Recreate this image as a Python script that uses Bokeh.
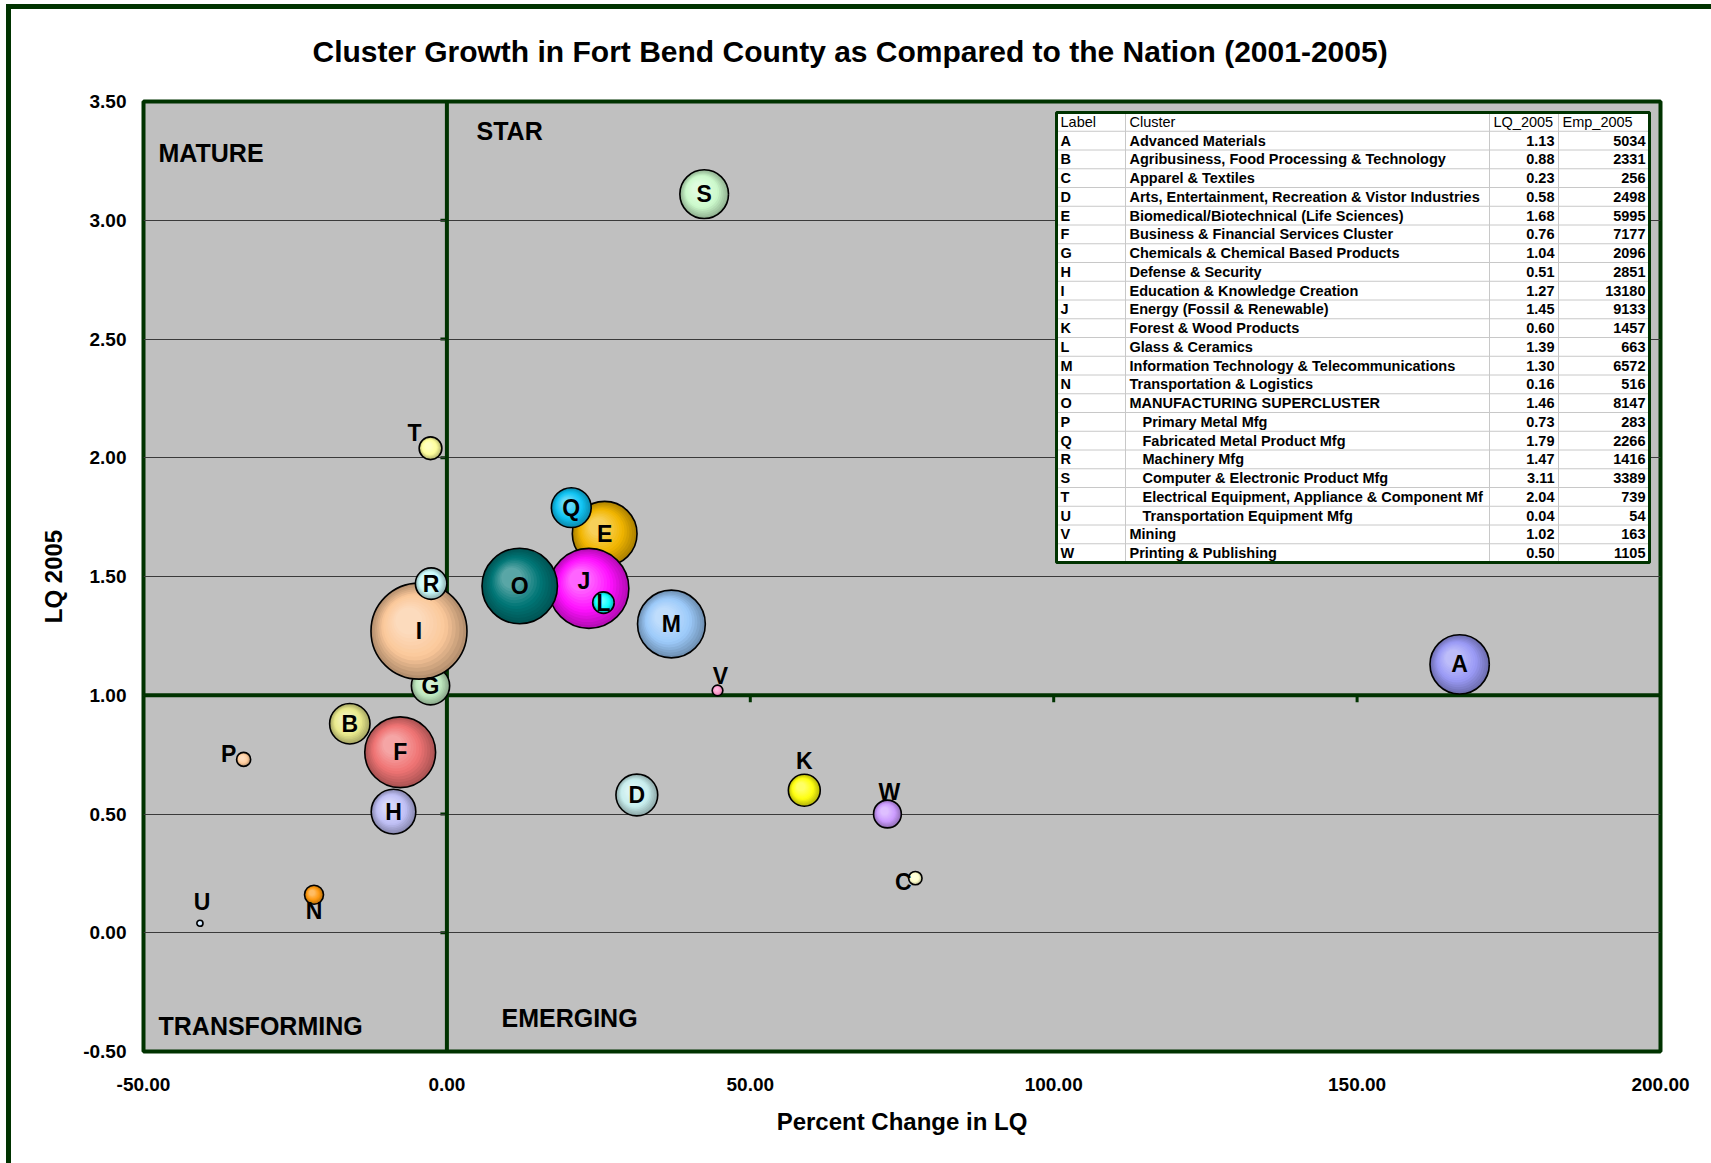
import math
from bokeh.plotting import figure
from bokeh.models import ColumnDataSource, Span, Range1d, NumeralTickFormatter, FixedTicker, Title
from bokeh.layouts import column
from bokeh.embed import file_html
from bokeh.resources import INLINE
from bokeh.core.properties import value

# ---------------- data ----------------
labels = list("ABCDEFGHIJKLMNOPQRSTUVW")
clusters = [
    "Advanced Materials",
    "Agribusiness, Food Processing & Technology",
    "Apparel & Textiles",
    "Arts, Entertainment, Recreation & Vistor Industries",
    "Biomedical/Biotechnical (Life Sciences)",
    "Business & Financial Services Cluster",
    "Chemicals & Chemical Based Products",
    "Defense & Security",
    "Education & Knowledge Creation",
    "Energy (Fossil & Renewable)",
    "Forest & Wood Products",
    "Glass & Ceramics",
    "Information Technology & Telecommunications",
    "Transportation & Logistics",
    "MANUFACTURING SUPERCLUSTER",
    "Primary Metal Mfg",
    "Fabricated Metal Product Mfg",
    "Machinery Mfg",
    "Computer & Electronic Product Mfg",
    "Electrical Equipment, Appliance & Component Mf",
    "Transportation Equipment Mfg",
    "Mining",
    "Printing & Publishing",
]
is_subcluster = [False] * 15 + [True] * 6 + [False] * 2
lq_2005 = [1.13, 0.88, 0.23, 0.58, 1.68, 0.76, 1.04, 0.51, 1.27, 1.45, 0.60, 1.39,
           1.30, 0.16, 1.46, 0.73, 1.79, 1.47, 3.11, 2.04, 0.04, 1.02, 0.50]
emp_2005 = [5034, 2331, 256, 2498, 5995, 7177, 2096, 2851, 13180, 9133, 1457, 663,
            6572, 516, 8147, 283, 2266, 1416, 3389, 739, 54, 163, 1105]
pct_change_lq = [166.9, -16.0, 77.2, 31.3, 26.0, -7.7, -2.7, -8.8, -4.6, 23.4, 58.9, 25.8,
                 37.0, -21.9, 12.0, -33.5, 20.5, -2.6, 42.4, -2.7, -40.7, 44.6, 72.6]
x_ticks = [-50, 0, 50, 100, 150, 200]
y_ticks = [-0.5, 0.0, 0.5, 1.0, 1.5, 2.0, 2.5, 3.0, 3.5]
quadrant_names = ["MATURE", "STAR", "TRANSFORMING", "EMERGING"]
title_text = "Cluster Growth in Fort Bend County as Compared to the Nation (2001-2005)"

# ---------------- styling ----------------
bubble_colors = ["#9a9af6", "#eaea8c", "#ffffcc", "#c8eeee", "#f2b600", "#f07474",
                 "#c0eac0", "#c0c0f6", "#fbc89a", "#ff10ff", "#ffff10", "#10ffff",
                 "#9ccafa", "#ff9a10", "#007676", "#ffcc9c", "#10c4f4", "#ccfcfc",
                 "#ccfacc", "#ffff9c", "#cce6ff", "#ff9acc", "#cc9cff"]
# label offsets in screen pixels (dx, dy down)
label_dx = [0, 0, -12, 0, 0, 0, 0, 0, 0, -5, 0, 0, 0, 0, 0, -15, 0, 0, 0, -16, 2, 3, 2]
label_dy = [0, 0, 4, 0, 0, 0, 0, 0, 0, -7, -29, 0, 0, 16, 0, -5, 0, 0, 0, -15, -21, -15, -22]

GREEN = "#003300"
FONT = "Liberation Sans"
FIG_W, FIG_H = 1700, 1154
B_L, B_R, B_T, B_B = 132, 51, 92, 112
FRAME_W = FIG_W - B_L - B_R
FRAME_H = FIG_H - B_T - B_B
X0, X1 = -50, 200
Y0, Y1 = -0.5, 3.5
PX_X = FRAME_W / (X1 - X0)
PX_Y = FRAME_H / (Y1 - Y0)
MAX_D = 96.0


def cx(px):  # canvas px -> data x
    return X0 + (px - B_L) / PX_X


def cy(py):  # canvas px -> data y
    return Y1 - (py - B_T) / PX_Y


def mix(c, other, t):
    a = [int(c[i:i + 2], 16) for i in (1, 3, 5)]
    b = [int(other[i:i + 2], 16) for i in (1, 3, 5)]
    return "#%02x%02x%02x" % tuple(round(a[k] + (b[k] - a[k]) * t) for k in range(3))


p = figure(width=FIG_W, height=FIG_H, x_range=Range1d(X0, X1), y_range=Range1d(Y0, Y1),
           output_backend="svg", toolbar_location=None, title=None,
           min_border_left=B_L, min_border_right=B_R, min_border_top=B_T, min_border_bottom=B_B)
p.background_fill_color = "#c0c0c0"
p.border_fill_color = "white"
p.outline_line_color = GREEN
p.outline_line_width = 4

# spacer (closest to frame) then the main title
p.add_layout(Title(text=" ", text_font_size="20px", standoff=0), "above")
p.add_layout(Title(text=title_text, align="left", offset=169, text_font=FONT,
                   text_font_size="30px", text_font_style="bold", text_color="black",
                   standoff=20), "above")

p.xgrid.grid_line_color = None
p.ygrid.grid_line_color = "#3a3a3a"
p.ygrid.grid_line_width = 1
p.xaxis.ticker = FixedTicker(ticks=x_ticks)
p.yaxis.ticker = FixedTicker(ticks=y_ticks)
p.ygrid.ticker = FixedTicker(ticks=y_ticks)
for ax in (p.xaxis[0], p.yaxis[0]):
    ax.formatter = NumeralTickFormatter(format="0.00")
    ax.axis_line_color = None
    ax.major_tick_line_color = None
    ax.minor_tick_line_color = None
    ax.major_label_text_font = FONT
    ax.major_label_text_font_style = "bold"
    ax.major_label_text_font_size = "19px"
    ax.major_label_text_color = "black"
    ax.axis_label_text_font = FONT
    ax.axis_label_text_font_style = "bold"
    ax.axis_label_text_font_size = "24px"
    ax.axis_label_text_color = "black"
p.xaxis.axis_label = "Percent Change in LQ"
p.yaxis.axis_label = "LQ 2005"
p.xaxis.major_label_standoff = 20
p.yaxis.major_label_standoff = 11
p.xaxis.axis_label_standoff = 14
p.yaxis.axis_label_standoff = 13

# crossing axes
p.add_layout(Span(location=1.0, dimension="width", line_color=GREEN, line_width=4, level="underlay"))
p.add_layout(Span(location=0.0, dimension="height", line_color=GREEN, line_width=4, level="underlay"))
# tick marks on crossing axes
vt_y = [t for t in y_ticks if t not in (Y0, Y1, 1.0)]
p.rect(x=[0 - 4 / PX_X] * len(vt_y), y=vt_y, width=5, height=3, width_units="screen",
       height_units="screen", fill_color=GREEN, line_color=None, level="underlay")
ht_x = [t for t in x_ticks if t not in (X0, X1, 0)]
p.rect(x=ht_x, y=[1.0 - 4 / PX_Y] * len(ht_x), width=3, height=6, width_units="screen",
       height_units="screen", fill_color=GREEN, line_color=None, level="underlay")

# quadrant labels
qx = [cx(147), cx(465), cx(147), cx(490)]
qy = [cy(143), cy(121), cy(1016), cy(1008)]
p.text(x=qx, y=qy, text=quadrant_names, text_font=value(FONT), text_font_style="bold",
       text_font_size="25px", text_align="left", text_baseline="middle", text_color="black")

# ---------------- bubbles (shaded) ----------------
bx, by, bs, bc, bfa, bla = [], [], [], [], [], []
N_LAYERS = 12
for i in range(len(labels)):
    d = MAX_D * math.sqrt(emp_2005[i] / max(emp_2005))
    col = bubble_colors[i]
    edge = mix(col, "#000000", 0.28)
    center = mix(col, "#ffffff", 0.35)
    for k in range(N_LAYERS + 1):
        t = k / N_LAYERS
        if t < 0.45:
            c = mix(edge, col, t / 0.45)
        else:
            c = mix(col, center, (t - 0.45) / 0.55)
        m = 0.15 * d * t
        bx.append(pct_change_lq[i] - m * 0.7 / PX_X)
        by.append(lq_2005[i] + m * 0.7 / PX_Y)
        bs.append(d * (1 - 0.72 * t))
        bc.append(c)
        bfa.append(1.0)
        bla.append(0.0)
    bx.append(pct_change_lq[i]); by.append(lq_2005[i]); bs.append(d)
    bc.append(col); bfa.append(0.0); bla.append(1.0)

bsrc = ColumnDataSource(dict(x=bx, y=by, size=bs, color=bc, fa=bfa, la=bla))
p.scatter(x="x", y="y", size="size", fill_color="color", fill_alpha="fa",
          line_color="black", line_alpha="la", line_width=1.6, source=bsrc)

lsrc = ColumnDataSource(dict(x=pct_change_lq, y=lq_2005, text=labels, dx=label_dx, dy=label_dy))
p.text(x="x", y="y", text="text", x_offset="dx", y_offset="dy", source=lsrc,
       text_font=value(FONT), text_font_style="bold", text_font_size="23px",
       text_align="center", text_baseline="middle", text_color="black")

# ---------------- table ----------------
T_L, T_R, T_T, T_B = 1045, 1638, 103, 553
COLS = [1045, 1114, 1478, 1547, 1638]
n_rows = len(labels) + 1
row_h = (T_B - T_T) / n_rows

p.quad(left=[cx(T_L)], right=[cx(T_R)], top=[cy(T_T)], bottom=[cy(T_B)],
       fill_color="white", line_color=None)
hl_y = [cy(T_T + row_h * r) for r in range(1, n_rows)]
p.segment(x0=[cx(T_L)] * len(hl_y), x1=[cx(T_R)] * len(hl_y), y0=hl_y, y1=hl_y,
          line_color="#c8c8c8", line_width=1)
vl_x = [cx(c) for c in COLS[1:-1]]
p.segment(x0=vl_x, x1=vl_x, y0=[cy(T_T)] * len(vl_x), y1=[cy(T_B)] * len(vl_x),
          line_color="#c8c8c8", line_width=1)
p.quad(left=[cx(T_L)], right=[cx(T_R)], top=[cy(T_T)], bottom=[cy(T_B)],
       fill_color=None, line_color=GREEN, line_width=3)

row_y = [cy(T_T + row_h * (r + 1.5)) for r in range(len(labels))]
head_y = cy(T_T + row_h * 0.5)
tfont = dict(text_font=value(FONT), text_font_size="14.5px", text_baseline="middle",
             text_color="black")
headers = ["Label", "Cluster", "LQ_2005", "Emp_2005"]
p.text(x=[cx(c + 4) for c in COLS[:4]], y=[head_y] * 4, text=headers, text_align="left", **tfont)
p.text(x=[cx(COLS[0] + 4)] * len(labels), y=row_y, text=labels, text_align="left",
       text_font_style="bold", **tfont)
csrc = ColumnDataSource(dict(x=[cx(COLS[1] + 4)] * len(labels), y=row_y, text=clusters,
                             ind=[13 if s else 0 for s in is_subcluster]))
p.text(x="x", y="y", text="text", x_offset="ind", source=csrc, text_align="left",
       text_font_style="bold", **tfont)
p.text(x=[cx(COLS[3] - 4)] * len(labels), y=row_y, text=["%.2f" % v for v in lq_2005],
       text_align="right", text_font_style="bold", **tfont)
p.text(x=[cx(COLS[4] - 4)] * len(labels), y=row_y, text=[str(v) for v in emp_2005],
       text_align="right", text_font_style="bold", **tfont)

layout = column(p, margin=(4, 0, 0, 6),
                styles={"border-left": "5px solid #003300", "border-top": "5px solid #003300"})
open("out.html", "w").write(file_html(layout, INLINE))
